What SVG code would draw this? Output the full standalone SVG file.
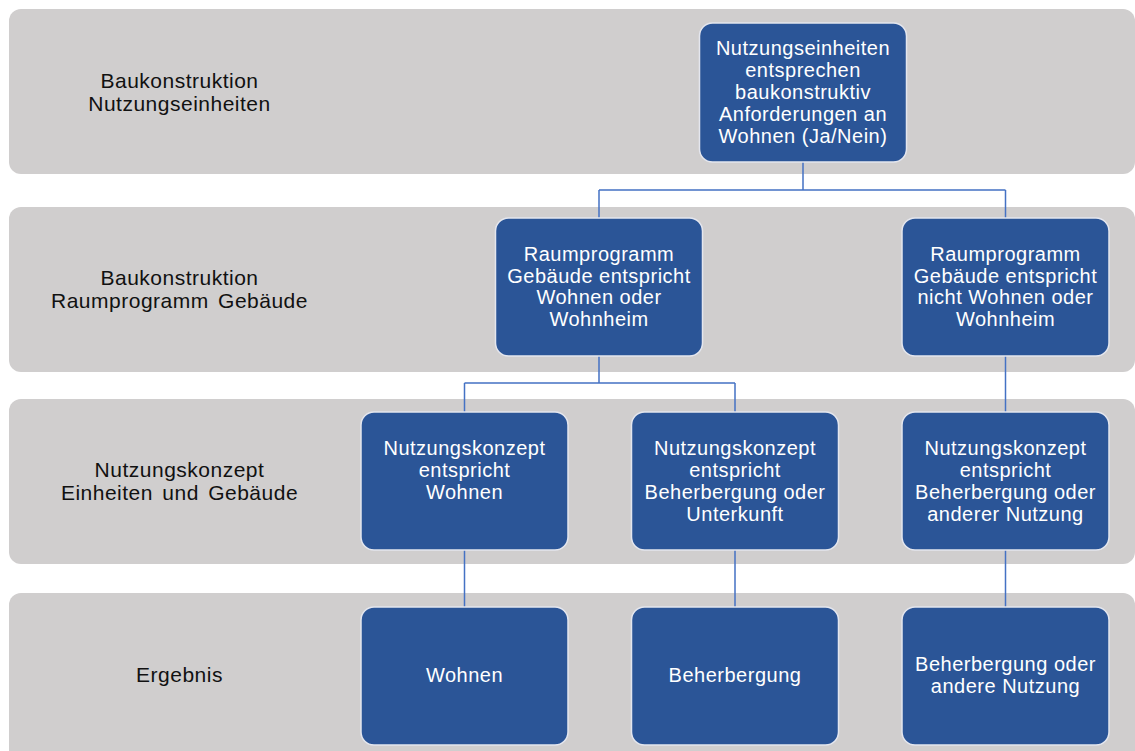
<svg xmlns="http://www.w3.org/2000/svg" width="1135" height="751" viewBox="0 0 1135 751">
<style>
.band{fill:#D0CECE;}
.node{fill:#2B5597;stroke:#E4E6EE;stroke-width:1.5;}
.nt{font-family:"Liberation Sans",Arial,sans-serif;font-size:20px;letter-spacing:0.5px;fill:#FFFFFF;text-anchor:middle;}
.lt{font-family:"Liberation Sans",Arial,sans-serif;font-size:21px;letter-spacing:0.5px;word-spacing:3px;fill:#111111;text-anchor:middle;}
.conn{fill:none;stroke:#4472C4;stroke-width:1.5;}
</style>
<rect width="1135" height="751" fill="#FFFFFF"/>
<g id="bands">
<rect class="band" x="9" y="9" width="1126" height="165" rx="12"/>
<rect class="band" x="9" y="207" width="1126" height="165" rx="12"/>
<rect class="band" x="9" y="399" width="1126" height="165" rx="12"/>
<rect class="band" x="9" y="593" width="1126" height="175" rx="12"/>
</g>
<g id="labels">
<text class="lt" x="179.5"><tspan x="179.5" y="88">Baukonstruktion</tspan><tspan x="179.5" y="111">Nutzungseinheiten</tspan></text>
<text class="lt" x="179.5"><tspan x="179.5" y="285">Baukonstruktion</tspan><tspan x="179.5" y="308">Raumprogramm Gebäude</tspan></text>
<text class="lt" x="179.5"><tspan x="179.5" y="477">Nutzungskonzept</tspan><tspan x="179.5" y="500">Einheiten und Gebäude</tspan></text>
<text class="lt" x="179.5" y="682">Ergebnis</text>
</g>
<g id="connectors">
<path class="conn" d="M803 162 V190 M599 190 H1005.5 M599 190 V218 M1005.5 190 V218"/>
<path class="conn" d="M599 356 V383 M464.5 383 H735 M464.5 383 V412 M735 383 V412"/>
<path class="conn" d="M1005.5 356 V412"/>
<path class="conn" d="M464.5 550 V607 M735 550 V607 M1005.5 550 V607"/>
</g>
<g id="n1">
<rect class="node" x="699.5" y="23" width="207" height="139" rx="13"/>
<text class="nt"><tspan x="803" y="55">Nutzungseinheiten</tspan><tspan x="803" y="77">entsprechen</tspan><tspan x="803" y="99">baukonstruktiv</tspan><tspan x="803" y="121">Anforderungen an</tspan><tspan x="803" y="143">Wohnen (Ja/Nein)</tspan></text>
</g>
<g id="n2">
<rect class="node" x="495.5" y="218" width="207" height="138" rx="13"/>
<text class="nt"><tspan x="599" y="261">Raumprogramm</tspan><tspan x="599" y="282.5">Gebäude entspricht</tspan><tspan x="599" y="304">Wohnen oder</tspan><tspan x="599" y="325.5">Wohnheim</tspan></text>
</g>
<g id="n3">
<rect class="node" x="902" y="218" width="207" height="138" rx="13"/>
<text class="nt"><tspan x="1005.5" y="261">Raumprogramm</tspan><tspan x="1005.5" y="282.5">Gebäude entspricht</tspan><tspan x="1005.5" y="304">nicht Wohnen oder</tspan><tspan x="1005.5" y="325.5">Wohnheim</tspan></text>
</g>
<g id="n4">
<rect class="node" x="361" y="412" width="207" height="138" rx="13"/>
<text class="nt"><tspan x="464.5" y="455">Nutzungskonzept</tspan><tspan x="464.5" y="477">entspricht</tspan><tspan x="464.5" y="499">Wohnen</tspan></text>
</g>
<g id="n5">
<rect class="node" x="631.5" y="412" width="207" height="138" rx="13"/>
<text class="nt"><tspan x="735" y="455">Nutzungskonzept</tspan><tspan x="735" y="477">entspricht</tspan><tspan x="735" y="499">Beherbergung oder</tspan><tspan x="735" y="521">Unterkunft</tspan></text>
</g>
<g id="n6">
<rect class="node" x="902" y="412" width="207" height="138" rx="13"/>
<text class="nt"><tspan x="1005.5" y="455">Nutzungskonzept</tspan><tspan x="1005.5" y="477">entspricht</tspan><tspan x="1005.5" y="499">Beherbergung oder</tspan><tspan x="1005.5" y="521">anderer Nutzung</tspan></text>
</g>
<g id="n7">
<rect class="node" x="361" y="607" width="207" height="138" rx="13"/>
<text class="nt" x="464.5" y="682">Wohnen</text>
</g>
<g id="n8">
<rect class="node" x="631.5" y="607" width="207" height="138" rx="13"/>
<text class="nt" x="735" y="682">Beherbergung</text>
</g>
<g id="n9">
<rect class="node" x="902" y="607" width="207" height="138" rx="13"/>
<text class="nt"><tspan x="1005.5" y="671">Beherbergung oder</tspan><tspan x="1005.5" y="693">andere Nutzung</tspan></text>
</g>
</svg>
